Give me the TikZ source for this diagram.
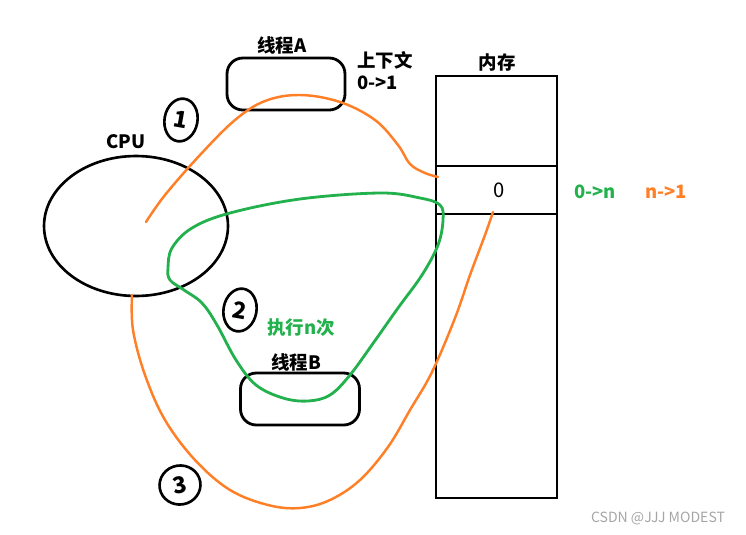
\documentclass[tikz,border=0pt]{standalone}
\usepackage{fontspec}
\setmainfont{Noto Sans CJK SC}
\usetikzlibrary{shapes.geometric}
\definecolor{paintorange}{HTML}{FF7F27}
\definecolor{paintgreen}{HTML}{22B14C}
\tikzset{
  thread/.style={draw, line width=1.6pt, rounded corners=9pt, minimum width=2.36cm, minimum height=1.04cm},
  lbl/.style={font=\bfseries\fontsize{10.5}{12}\selectfont, inner sep=1pt},
  numring/.style={draw, ellipse, line width=1.5pt, minimum width=0.66cm, minimum height=0.86cm, inner sep=0pt, font=\bfseries\fontsize{13}{13}\selectfont},
  ocurve/.style={paintorange, line width=1.4pt, line cap=round},
  gcurve/.style={paintgreen, line width=1.6pt, line cap=round},
}

\begin{document}
\begin{tikzpicture}[x=0.02cm, y=-0.02cm]
\useasboundingbox (0,0) rectangle (746,534);
% cpu and threads
\node[draw, ellipse, line width=1.5pt, minimum width=3.68cm, minimum height=2.8cm] (cpu) at (136,226) {};
\node[lbl] (cpulbl) at (126,142) {CPU};
\node[thread] (ta) at (286,84) {};
\node[lbl] (talbl) at (282,45) {线程A};
\node[lbl, anchor=west] (ctx) at (355,60) {上下文};
\node[lbl, anchor=west] (ctxval) at (355,83) {0->1};
\node[thread, minimum width=2.38cm] (tb) at (300,399) {};
\node[lbl] (tblbl) at (296,362) {线程B};
% memory
\node[draw, line width=1.6pt, minimum width=2.42cm, minimum height=8.44cm] (mem) at (496.5,287) {};
\node[lbl] (memlbl) at (497,62) {内存};
\draw[line width=1.6pt] (mem.west |- 0,166) -- (mem.east |- 0,166);
\draw[line width=1.6pt] (mem.west |- 0,214) -- (mem.east |- 0,214);
\node[lbl, font=\fontsize{11.5}{12}\selectfont] (cell) at (499,190) {0};
\node[lbl, text=paintgreen, anchor=west] (gval) at (572,192) {0->n};
\node[lbl, text=paintorange, anchor=west] (oval) at (643,192) {n->1};
\node[lbl, text=paintgreen] (loop) at (301,328) {执行n次};
% step marks
\node[numring, rotate=-10] (s1) at (181,120) {1};
\node[numring, rotate=-10] (s2) at (240,310) {2};
\node[numring, rotate=10, minimum width=0.82cm, minimum height=0.78cm] (s3) at (180,485) {3};
% curves
\coordinate (o1s) at (146,222);
\coordinate (o1e) at (438,177);
\draw[ocurve] plot[smooth, tension=0.6] coordinates {(o1s) (165,195) (200,155) (235,120) (265,101) (300,95) (340,102) (375,120) (398,145) (410,164) (425,173) (o1e)};
\coordinate (gs) at (168,268);
\draw[gcurve] plot[smooth cycle, tension=0.6] coordinates {(gs) (172,248) (192,228) (230,213) (300,199) (380,193) (420,198) (440,205) (443,220) (438,245) (422,275) (398,308) (374,342) (350,375) (330,395) (308,401) (283,398) (256,385) (236,360) (217,325) (202,303) (184,290) (170,280)};
\coordinate (o3s) at (132,295);
\coordinate (o3e) at (493,212);
\draw[ocurve] plot[smooth, tension=0.6] coordinates {(o3s) (133,330) (145,375) (165,420) (195,460) (230,490) (268,505) (300,508) (330,500) (360,480) (388,447) (410,410) (432,372) (455,318) (470,275) (485,235) (o3e)};
% watermark
\node[text=gray!70, font=\fontsize{8}{9}\selectfont] (mark) at (658,518) {CSDN @JJJ MODEST};
\end{tikzpicture}
\end{document}
